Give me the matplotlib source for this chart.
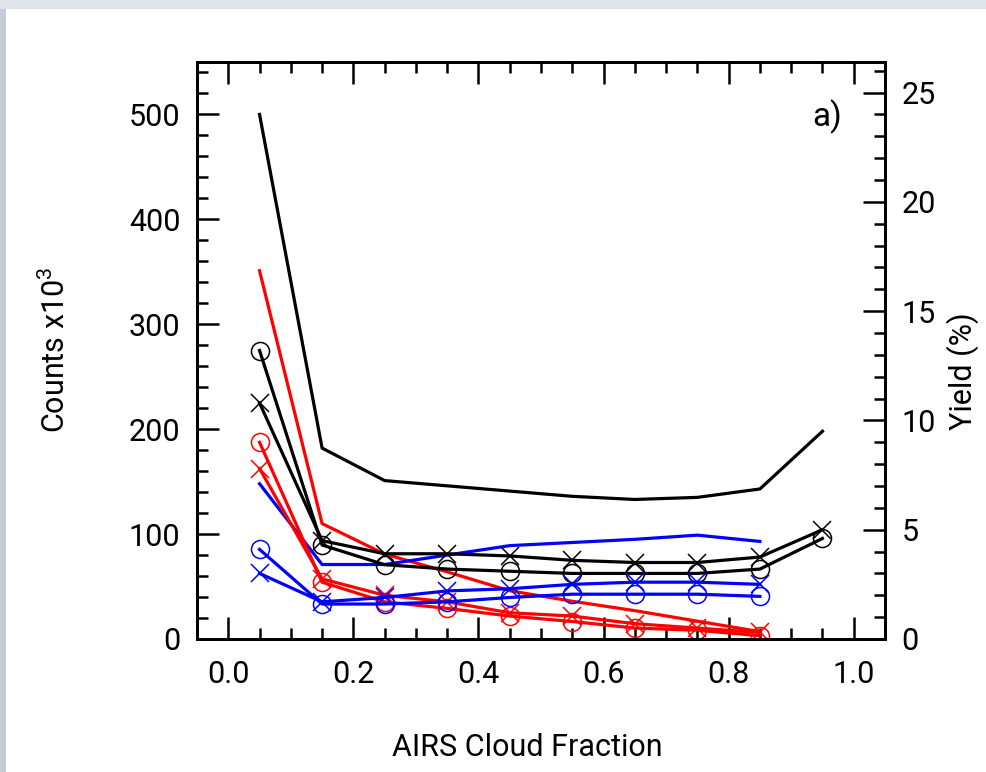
import matplotlib
matplotlib.use("Agg")
import matplotlib.pyplot as plt
from matplotlib.ticker import MultipleLocator
from matplotlib.patches import Rectangle

# ---------------- data ----------------
cloud_fraction = [0.05, 0.15, 0.25, 0.35, 0.45, 0.55, 0.65, 0.75, 0.85, 0.95]
cf_short = cloud_fraction[:9]

# counts x10^3 (left axis, no markers)
counts_black = [500, 182, 151, 146, 141, 136, 133, 135, 143, 198]
counts_red = [351, 110, 81, 64, 46, 36, 27, 17, 7]
counts_blue = [148, 71, 71, 80, 89, 92, 95, 99, 93]

# yield % (right axis, markers)
yield_black_o = [13.2, 4.3, 3.4, 3.2, 3.1, 3.0, 3.0, 3.0, 3.2, 4.6]
yield_black_x = [10.8, 4.5, 3.9, 3.9, 3.8, 3.6, 3.5, 3.5, 3.75, 5.0]
yield_red_o = [9.0, 2.6, 1.7, 1.4, 1.05, 0.8, 0.5, 0.4, 0.15]
yield_red_x = [7.8, 2.75, 2.0, 1.7, 1.2, 1.05, 0.7, 0.5, 0.3]
yield_blue_o = [4.1, 1.6, 1.6, 1.7, 1.9, 2.05, 2.05, 2.05, 1.95]
yield_blue_x = [3.0, 1.7, 1.9, 2.2, 2.3, 2.5, 2.6, 2.6, 2.5]

xticks = [0.0, 0.2, 0.4, 0.6, 0.8, 1.0]
xtick_labels = ["0.0", "0.2", "0.4", "0.6", "0.8", "1.0"]

# ---------------- figure ----------------
W, H = 986, 772
plt.rcParams["font.family"] = ["Roboto", "DejaVu Sans"]
plt.rcParams["mathtext.fontset"] = "custom"
plt.rcParams["mathtext.rm"] = "Roboto"
fig = plt.figure(figsize=(W / 100, H / 100), dpi=100)
fig.patch.set_facecolor("white")

# outer background strips
fig.patches.append(Rectangle((0, 0), 6 / W, 1, transform=fig.transFigure,
                             facecolor="#c6ccd6", edgecolor="none", zorder=-5))
fig.patches.append(Rectangle((0, 1 - 9 / H), 1, 9 / H, transform=fig.transFigure,
                             facecolor="#dfe4ea", edgecolor="none", zorder=-5))

left, right = 197 / W, 885 / W
bottom, top = 1 - 639 / H, 1 - 62 / H
ax = fig.add_axes([left, bottom, right - left, top - bottom])
ax2 = ax.twinx()

lw = 2.3
ax.plot(cloud_fraction, counts_black, color="black", lw=lw)
ax.plot(cf_short, counts_red, color="red", lw=lw)
ax.plot(cf_short, counts_blue, color="blue", lw=lw)

mkw = dict(ms=13, mfc="none", mew=1.1, lw=lw)
ax2.plot(cloud_fraction, yield_black_o, color="black", marker="o", **mkw)
ax2.plot(cloud_fraction, yield_black_x, color="black", marker="x", **mkw)
ax2.plot(cf_short, yield_red_o, color="red", marker="o", **mkw)
ax2.plot(cf_short, yield_red_x, color="red", marker="x", **mkw)
ax2.plot(cf_short, yield_blue_o, color="blue", marker="o", **mkw)
ax2.plot(cf_short, yield_blue_x, color="blue", marker="x", **mkw)

ax.set_xlim(-0.05, 1.05)
ax.set_ylim(0, 550)
ax2.set_ylim(0, 26.4)

fs = 22
ax.set_xticks(xticks)
ax.set_xticklabels(xtick_labels)
ax.xaxis.set_minor_locator(MultipleLocator(0.05))
ax.yaxis.set_major_locator(MultipleLocator(100))
ax.yaxis.set_minor_locator(MultipleLocator(20))
ax2.yaxis.set_major_locator(MultipleLocator(5))
ax2.yaxis.set_minor_locator(MultipleLocator(1))

ax.tick_params(axis="x", which="both", direction="in", top=True, bottom=True,
               labelsize=fs, pad=15)
ax.tick_params(axis="y", which="both", direction="in", left=True, right=False,
               labelsize=fs, pad=12)
ax2.tick_params(axis="y", which="both", direction="in", right=True, left=False,
                labelsize=fs, pad=12)
for a in (ax, ax2):
    a.tick_params(which="major", length=16, width=1.8)
    a.tick_params(which="minor", length=8, width=1.8)
    for s in a.spines.values():
        s.set_linewidth(2)

fig.text(55 / W, 1 - 350 / H, "Counts x10$^3$", rotation=90, fontsize=fs,
         ha="center", va="center")
fig.text(963 / W, 1 - 371 / H, "Yield (%)", rotation=90, fontsize=fs,
         ha="center", va="center")
fig.text(527 / W, 1 - 748 / H, "AIRS Cloud Fraction", fontsize=fs,
         ha="center", va="center")
ax.text(0.938, 0.905, "a)", transform=ax.transAxes, fontsize=fs + 2,
        ha="right", va="center")

fig.savefig("out.png", dpi=100)
